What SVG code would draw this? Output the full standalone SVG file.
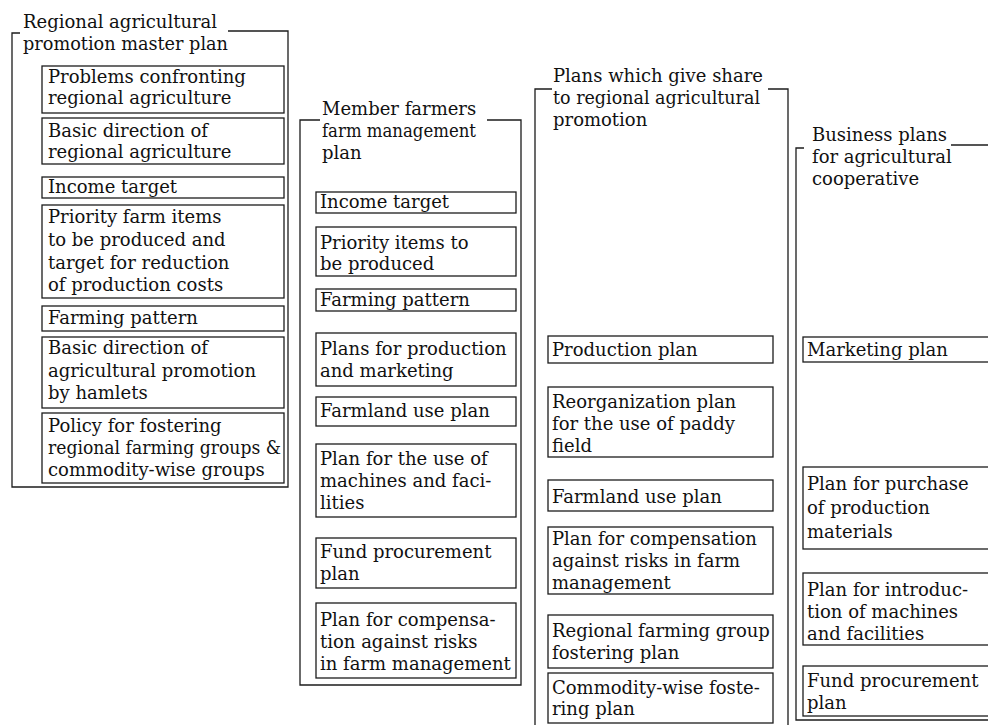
<svg xmlns="http://www.w3.org/2000/svg" width="988" height="725" viewBox="0 0 988 725">
  <style>
    .frame { fill: none; stroke: #1c1c1c; stroke-width: 1.3; }
    .box { fill: none; stroke: #1c1c1c; stroke-width: 1.3; }
    text { font-family: "DejaVu Serif", "Liberation Serif", serif; font-size: 18px; fill: #111; }
  </style>
  <rect width="988" height="725" fill="#ffffff"/>

  <!-- Column 1: regional master plan -->
  <g id="master-plan">
    <path class="frame" d="M20,33 H12 V487 H288 V31 H228"/>
    <text x="23" y="28">Regional agricultural</text>
    <text x="23" y="50" textLength="205" lengthAdjust="spacingAndGlyphs">promotion master plan</text>
  </g>
  <g id="mp-problems">
    <rect class="box" x="42" y="66" width="242" height="47"/>
    <text x="48" y="83">Problems confronting</text>
    <text x="48" y="104">regional agriculture</text>
  </g>
  <g id="mp-direction">
    <rect class="box" x="42" y="118" width="242" height="46"/>
    <text x="48" y="137">Basic direction of</text>
    <text x="48" y="158">regional agriculture</text>
  </g>
  <g id="mp-income">
    <rect class="box" x="42" y="177" width="242" height="21"/>
    <text x="48" y="193">Income target</text>
  </g>
  <g id="mp-priority">
    <rect class="box" x="42" y="205" width="242" height="93"/>
    <text x="48" y="223">Priority farm items</text>
    <text x="48" y="246">to be produced and</text>
    <text x="48" y="269">target for reduction</text>
    <text x="48" y="291">of production costs</text>
  </g>
  <g id="mp-pattern">
    <rect class="box" x="42" y="306" width="242" height="25"/>
    <text x="48" y="324">Farming pattern</text>
  </g>
  <g id="mp-hamlets">
    <rect class="box" x="42" y="337" width="242" height="71"/>
    <text x="48" y="354">Basic direction of</text>
    <text x="48" y="377">agricultural promotion</text>
    <text x="48" y="399">by hamlets</text>
  </g>
  <g id="mp-groups">
    <rect class="box" x="42" y="413" width="242" height="70"/>
    <text x="48" y="432">Policy for fostering</text>
    <text x="48" y="454" textLength="233" lengthAdjust="spacingAndGlyphs">regional farming groups &amp;</text>
    <text x="48" y="476">commodity-wise groups</text>
  </g>

  <!-- Column 2: member farmers -->
  <g id="farm-plan">
    <path class="frame" d="M320,120 H300 V685 H521 V120 H487"/>
    <text x="322" y="115">Member farmers</text>
    <text x="322" y="137" textLength="154" lengthAdjust="spacingAndGlyphs">farm management</text>
    <text x="322" y="159">plan</text>
  </g>
  <g id="fp-income">
    <rect class="box" x="316" y="192" width="200" height="21"/>
    <text x="320" y="208">Income target</text>
  </g>
  <g id="fp-priority">
    <rect class="box" x="316" y="227" width="200" height="49"/>
    <text x="320" y="249">Priority items to</text>
    <text x="320" y="270">be produced</text>
  </g>
  <g id="fp-pattern">
    <rect class="box" x="316" y="289" width="200" height="22"/>
    <text x="320" y="306">Farming pattern</text>
  </g>
  <g id="fp-production">
    <rect class="box" x="316" y="333" width="200" height="53"/>
    <text x="320" y="355">Plans for production</text>
    <text x="320" y="377">and marketing</text>
  </g>
  <g id="fp-farmland">
    <rect class="box" x="316" y="397" width="200" height="29"/>
    <text x="320" y="417">Farmland use plan</text>
  </g>
  <g id="fp-machines">
    <rect class="box" x="316" y="444" width="200" height="73"/>
    <text x="320" y="465">Plan for the use of</text>
    <text x="320" y="487">machines and faci-</text>
    <text x="320" y="509">lities</text>
  </g>
  <g id="fp-fund">
    <rect class="box" x="316" y="538" width="200" height="50"/>
    <text x="320" y="558">Fund procurement</text>
    <text x="320" y="580">plan</text>
  </g>
  <g id="fp-risk">
    <rect class="box" x="316" y="603" width="200" height="75"/>
    <text x="320" y="626">Plan for compensa-</text>
    <text x="320" y="648">tion against risks</text>
    <text x="320" y="670">in farm management</text>
  </g>

  <!-- Column 3: plans sharing in regional promotion -->
  <g id="share-plans">
    <path class="frame" d="M552,89 H535 V730"/>
    <path class="frame" d="M768,89 H788 V730"/>
    <text x="553" y="82">Plans which give share</text>
    <text x="553" y="104" textLength="207" lengthAdjust="spacingAndGlyphs">to regional agricultural</text>
    <text x="553" y="126">promotion</text>
  </g>
  <g id="sp-production">
    <rect class="box" x="548" y="336" width="225" height="27"/>
    <text x="552" y="356">Production plan</text>
  </g>
  <g id="sp-paddy">
    <rect class="box" x="548" y="387" width="225" height="70"/>
    <text x="552" y="408">Reorganization plan</text>
    <text x="552" y="430">for the use of paddy</text>
    <text x="552" y="452">field</text>
  </g>
  <g id="sp-farmland">
    <rect class="box" x="548" y="480" width="225" height="31"/>
    <text x="552" y="503">Farmland use plan</text>
  </g>
  <g id="sp-risk">
    <rect class="box" x="548" y="527" width="225" height="67"/>
    <text x="552" y="545">Plan for compensation</text>
    <text x="552" y="567">against risks in farm</text>
    <text x="552" y="589">management</text>
  </g>
  <g id="sp-regional">
    <rect class="box" x="548" y="615" width="225" height="53"/>
    <text x="552" y="637">Regional farming group</text>
    <text x="552" y="659">fostering plan</text>
  </g>
  <g id="sp-commodity">
    <rect class="box" x="548" y="673" width="225" height="50"/>
    <text x="552" y="694">Commodity-wise foste-</text>
    <text x="552" y="715">ring plan</text>
  </g>

  <!-- Column 4: cooperative business plans -->
  <g id="coop-plans">
    <path class="frame" d="M804,148 H796 V720 H992"/>
    <path class="frame" d="M951,145 H992"/>
    <text x="812" y="141">Business plans</text>
    <text x="812" y="163">for agricultural</text>
    <text x="812" y="185">cooperative</text>
  </g>
  <g id="cp-marketing">
    <rect class="box" x="803" y="337" width="190" height="25"/>
    <text x="807" y="356">Marketing plan</text>
  </g>
  <g id="cp-materials">
    <rect class="box" x="803" y="467" width="190" height="82"/>
    <text x="807" y="490">Plan for purchase</text>
    <text x="807" y="514">of production</text>
    <text x="807" y="538">materials</text>
  </g>
  <g id="cp-machines">
    <rect class="box" x="803" y="573" width="190" height="72"/>
    <text x="807" y="596">Plan for introduc-</text>
    <text x="807" y="618">tion of machines</text>
    <text x="807" y="640">and facilities</text>
  </g>
  <g id="cp-fund">
    <rect class="box" x="803" y="666" width="190" height="50"/>
    <text x="807" y="687">Fund procurement</text>
    <text x="807" y="709">plan</text>
  </g>
</svg>
